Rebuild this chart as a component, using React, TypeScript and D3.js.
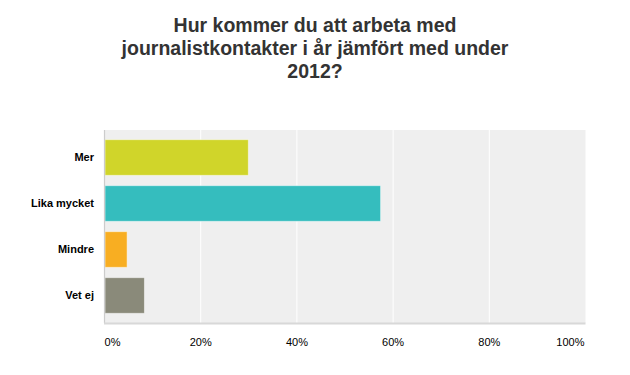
import React from "react";
import * as d3 from "d3";

const titleLines = ["Hur kommer du att arbeta med", "journalistkontakter i år jämfört med under", "2012?"];
const categories = ["Mer", "Lika mycket", "Mindre", "Vet ej"];
const values = [29.8, 57.3, 4.6, 8.2];
const colors = ["#D0D52A", "#35BDBE", "#F8AE22", "#8A8A7A"];
const ticks = [0, 20, 40, 60, 80, 100];

const W = 630;
const H = 375;
const plot = { left: 104.5, right: 585.5, top: 130, bottom: 323 };

export default function App() {
  const x = d3.scaleLinear().domain([0, 100]).range([plot.left, plot.right]);
  const y = d3.scaleBand<string>().domain(categories).range([plot.top, plot.bottom]).paddingInner(0.224).paddingOuter(0.21);
  const font = "Arial, 'Liberation Sans', Helvetica, sans-serif";
  return (
    <svg width={W} height={H} style={{ position: "absolute", left: 0, top: 0, background: "#fff" }} fontFamily={font}>
      {titleLines.map((t, i) => (
        <text key={i} x={315} y={32 + i * 22.8} textAnchor="middle" fontSize={19.5} fontWeight="bold" fill="#333">
          {t}
        </text>
      ))}
      <rect x={plot.left} y={plot.top} width={plot.right - plot.left} height={plot.bottom - plot.top} fill="#EFEFEF" />
      {ticks.slice(1, -1).map((t) => (
        <line key={t} x1={x(t)} x2={x(t)} y1={plot.top} y2={plot.bottom} stroke="#fff" strokeWidth={1} />
      ))}
      {categories.map((c, i) => (
        <g key={c}>
          <rect
            x={x(0) + 0.5}
            y={y(c)!}
            width={x(values[i]) - x(0)}
            height={y.bandwidth()}
            fill={colors[i]}
            stroke="#fff"
            strokeOpacity={0.5}
            strokeWidth={1}
          />
          <text x={94} y={y(c)! + y.bandwidth() / 2} dy="0.35em" textAnchor="end" fontSize={11} fontWeight="bold" fill="#000">
            {c}
          </text>
        </g>
      ))}
      <line x1={plot.left} x2={plot.left} y1={plot.top} y2={plot.bottom} stroke="#ccc" strokeWidth={1.2} />
      <line x1={plot.left - 0.5} x2={plot.right} y1={plot.bottom + 0.5} y2={plot.bottom + 0.5} stroke="#D8D8D8" strokeWidth={2} />
      {ticks.map((t, i) => (
        <text
          key={t}
          x={i === 0 ? x(t) : i === ticks.length - 1 ? x(t) - 1 : x(t)}
          y={346}
          textAnchor={i === 0 ? "start" : i === ticks.length - 1 ? "end" : "middle"}
          fontSize={11}
          fill="#000"
        >
          {t}%
        </text>
      ))}
    </svg>
  );
}
